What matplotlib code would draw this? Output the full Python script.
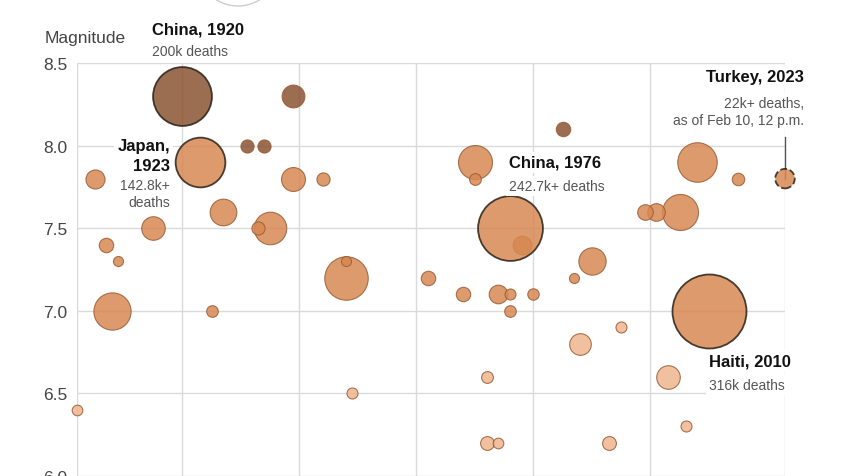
import numpy as np
import matplotlib
matplotlib.use("Agg")
import matplotlib.pyplot as plt
from matplotlib.patches import Circle

plt.rcParams['font.family'] = ['Liberation Sans', 'DejaVu Sans']

# earthquakes: year, magnitude, deaths
years = [1902, 1905, 1907, 1908, 1909, 1915, 1920, 1923, 1925, 1927,
         1931, 1933, 1934, 1935, 1939, 1939, 1944, 1948, 1948, 1949,
         1962, 1968, 1970, 1970, 1972, 1972, 1974, 1974, 1976, 1976,
         1976, 1976, 1978, 1980, 1985, 1987, 1988, 1990, 1993, 1995,
         1999, 2001, 2003, 2005, 2006, 2008, 2010, 2015, 2023]
magnitudes = [6.4, 7.8, 7.4, 7.0, 7.3, 7.5, 8.3, 7.9, 7.0, 7.6,
              8.0, 7.5, 8.0, 7.5, 8.3, 7.8, 7.8, 7.2, 7.3, 6.5,
              7.2, 7.1, 7.9, 7.8, 6.6, 6.2, 7.1, 6.2, 7.5, 7.5,
              7.1, 7.0, 7.4, 7.1, 8.1, 7.2, 6.8, 7.3, 6.2, 6.9,
              7.6, 7.6, 6.6, 7.6, 6.3, 7.9, 7.0, 7.8, 7.8]
deaths = [6500, 21000, 12000, 80000, 5800, 32000, 200000, 142800, 7800, 41000,
          10000, 10000, 10000, 61000, 30000, 33000, 10000, 109000, 5800, 7000,
          12000, 12000, 66700, 8000, 8000, 11000, 20000, 6500, 242700, 19000,
          7000, 7800, 20000, 7500, 12000, 5800, 27000, 43000, 11000, 7000,
          14000, 18000, 32000, 75000, 7000, 90000, 316000, 9000, 22000]

# labelled quakes: (year, magnitude, title lines, detail lines, ha, dx, title dy, detail dy)
callouts = [
    (1920, 8.3, ["China, 1920"], ["200k deaths"], "left", -30, 67, 45),
    (1923, 7.9, ["Japan,", "1923"], ["142.8k+", "deaths"], "right", -30, 17, -23),
    (1976, 7.5, ["China, 1976"], ["242.7k+ deaths"], "left", -1, 66, 42),
    (2023, 7.8, ["Turkey, 2023"], ["22k+ deaths,", "as of Feb 10, 12 p.m."], "right", 19, 102, 76),
    (2010, 7.0, ["Haiti, 2010"], ["316k deaths"], "left", 0, -50, -74),
]

DPI = 100
MAX_DEATHS = 316000
MAX_R_PX = 37

years = np.array(years)
magnitudes = np.array(magnitudes)
deaths = np.array(deaths)

r_px = MAX_R_PX * np.sqrt(deaths / MAX_DEATHS)
sizes = (2 * r_px * 72 / DPI) ** 2

def mag_color(m):
    if m >= 8.0:
        return "#8a5332"
    if m >= 7.0:
        return "#d88852"
    return "#efb68e"

fig = plt.figure(figsize=(8.5, 4.77), dpi=DPI)
ax = fig.add_axes([77 / 850, 0, (785 - 77) / 850, (477 - 64) / 477])

ax.set_xlim(1902, 2023)
ax.set_ylim(6.0, 8.5)
ax.set_xticks([1902, 1920, 1940, 1960, 1980, 2000, 2023])
ax.set_xticklabels([])
ax.set_yticks([6.0, 6.5, 7.0, 7.5, 8.0, 8.5])
ax.set_yticklabels(["6.0", "6.5", "7.0", "7.5", "8.0", "8.5"])
ax.tick_params(length=0, labelsize=12.5, labelcolor="#444444", pad=7)
ax.grid(True, color="#dadada", lw=1)
ax.set_axisbelow(True)
for s in ax.spines.values():
    s.set_visible(False)

labelled = {(c[0], c[1]) for c in callouts}
order = np.argsort(-deaths)
for i in order:
    key = (int(years[i]), float(magnitudes[i]))
    if key in labelled:
        continue
    ax.scatter(years[i], magnitudes[i], s=sizes[i], color=mag_color(magnitudes[i]),
               alpha=0.85, edgecolor="#9a5e38", linewidth=0.8, zorder=3, clip_on=False)

# turkey connector line
ax.plot([2023, 2023], [7.8, 8.05], color="#555555", lw=1, zorder=2, clip_on=False)

for (yr, mg, title, detail, ha, dx, dy_t, dy_d) in callouts:
    i = np.where((years == yr) & np.isclose(magnitudes, mg))[0][0]
    style = "--" if yr == 2023 else "-"
    ax.scatter(years[i], magnitudes[i], s=sizes[i], color=mag_color(magnitudes[i]),
               alpha=0.85, edgecolor="#2a2118", linewidth=1.3, linestyle=style,
               zorder=4, clip_on=False)
    for k, line in enumerate(title):
        ax.annotate(line, (yr, mg), xytext=(dx, dy_t - 20 * k), textcoords="offset pixels",
                    ha=ha, va="center", fontsize=12, fontweight="bold", color="#111111",
                    annotation_clip=False, zorder=5,
                    bbox=dict(fc="white", ec="none", pad=2))
    for k, line in enumerate(detail):
        ax.annotate(line, (yr, mg), xytext=(dx, dy_d - 17 * k), textcoords="offset pixels",
                    ha=ha, va="center", fontsize=10, color="#555555",
                    annotation_clip=False, zorder=5,
                    bbox=dict(fc="white", ec="none", pad=2))

fig.text(45 / 850, 1 - 38 / 477, "Magnitude", fontsize=12.5, color="#444444",
         ha="left", va="center")

# partial control circle at the top edge
fig.patches.append(Circle((238, 511), 41, transform=None, fill=False,
                          edgecolor="#cccccc", lw=1))

fig.savefig("out.png", dpi=DPI)
